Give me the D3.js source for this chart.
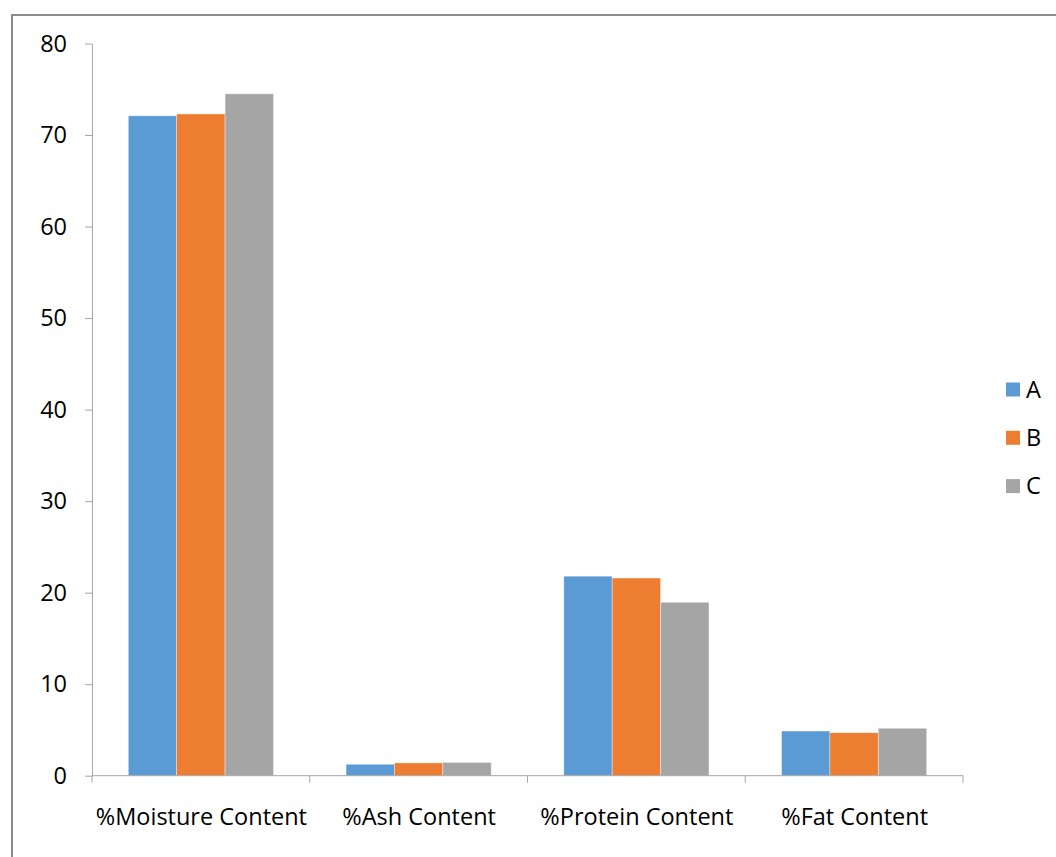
<!DOCTYPE html>
<html>
<head>
<meta charset="utf-8">
<script src="https://cdn.jsdelivr.net/npm/d3@7"></script>
<style>
  html, body { margin: 0; padding: 0; background: #fff; }
  svg { display: block; font-family: "Open Sans", "Noto Sans", sans-serif; }
</style>
</head>
<body>
<svg id="chart" width="1056" height="857"></svg>
<script>
const categories = ["%Moisture Content", "%Ash Content", "%Protein Content", "%Fat Content"]
const seriesNames = ["A", "B", "C"]
const seriesA = [72.1, 1.25, 21.8, 4.88]
const seriesB = [72.3, 1.4, 21.6, 4.7]
const seriesC = [74.5, 1.45, 18.95, 5.18]
const yTicks = [0, 10, 20, 30, 40, 50, 60, 70, 80]

const colours = ["#5B9BD5", "#ED7D31", "#A5A5A5"]
const values = [seriesA, seriesB, seriesC]

const svg = d3.select("#chart")

// outer frame
svg.append("rect")
    .attr("x", 12).attr("y", 15)
    .attr("width", 1100).attr("height", 900)
    .attr("fill", "none")
    .attr("stroke", "#8c8c8c")
    .attr("stroke-width", 2)

const plotLeft = 92, plotRight = 963, plotTop = 43.5, plotBottom = 775.7

const x = d3.scaleBand().domain(categories).range([plotLeft, plotRight]).padding(0)
const xs = d3.scaleBand().domain(seriesNames).range([0, x.bandwidth()])
    .paddingInner(0).paddingOuter(0.75)
const y = d3.scaleLinear().domain([0, 80]).range([plotBottom, plotTop])

const fontSize = 23.5

// y axis
const yAxis = svg.append("g")
    .attr("transform", `translate(${plotLeft},0)`)
    .call(d3.axisLeft(y).tickValues(yTicks).tickSize(7).tickSizeOuter(0).tickPadding(18))
yAxis.select(".domain").attr("stroke", "#a6a6a6")
yAxis.selectAll(".tick line").attr("stroke", "#a6a6a6")
yAxis.selectAll("text")
    .attr("font-size", fontSize)
    .attr("font-family", "'Open Sans', sans-serif")
    .attr("fill", "#000")

// bars
const rows = categories.map((c, i) => ({
    cat: c,
    bars: seriesNames.map((s, j) => ({ s, v: values[j][i], colour: colours[j] })),
}))

svg.append("g")
    .selectAll("g")
    .data(rows)
    .join("g")
    .attr("transform", (d) => `translate(${x(d.cat)},0)`)
    .selectAll("rect")
    .data((d) => d.bars)
    .join("rect")
    .attr("x", (d) => xs(d.s))
    .attr("y", (d) => y(d.v))
    .attr("width", xs.bandwidth())
    .attr("height", (d) => y(0) - y(d.v))
    .attr("fill", (d) => d.colour)
    .attr("stroke", "rgba(255,255,255,0.5)")
    .attr("stroke-width", 0.75)

// x axis: line + boundary ticks, labels centred in each band
const xAxis = svg.append("g").attr("transform", `translate(0,${plotBottom})`)
xAxis.call(
    d3.axisBottom(d3.scalePoint().domain(categories)
        .range([plotLeft + x.bandwidth() / 2, plotRight - x.bandwidth() / 2]))
        .tickSize(0).tickSizeOuter(0).tickPadding(33)
)
xAxis.select(".domain").remove()
xAxis.selectAll("text")
    .attr("font-size", fontSize)
    .attr("font-family", "'Open Sans', sans-serif")
    .attr("fill", "#000")

const bounds = categories.map((c) => x(c)).concat([plotRight])
xAxis.append("line")
    .attr("x1", plotLeft).attr("x2", plotRight)
    .attr("y1", 0).attr("y2", 0)
    .attr("stroke", "#a6a6a6")
xAxis.selectAll(".bound")
    .data(bounds)
    .join("line")
    .attr("class", "bound")
    .attr("x1", (d) => d).attr("x2", (d) => d)
    .attr("y1", 0).attr("y2", 7)
    .attr("stroke", "#a6a6a6")

// legend
const legend = svg.append("g")
    .selectAll("g")
    .data(seriesNames)
    .join("g")
    .attr("transform", (d, i) => `translate(1006,${382.5 + i * 48.3})`)
legend.append("rect")
    .attr("width", 14).attr("height", 14)
    .attr("fill", (d, i) => colours[i])
legend.append("text")
    .attr("x", 20).attr("y", 7)
    .attr("dy", "0.35em")
    .attr("font-size", fontSize)
    .text((d) => d)
</script>
</body>
</html>
